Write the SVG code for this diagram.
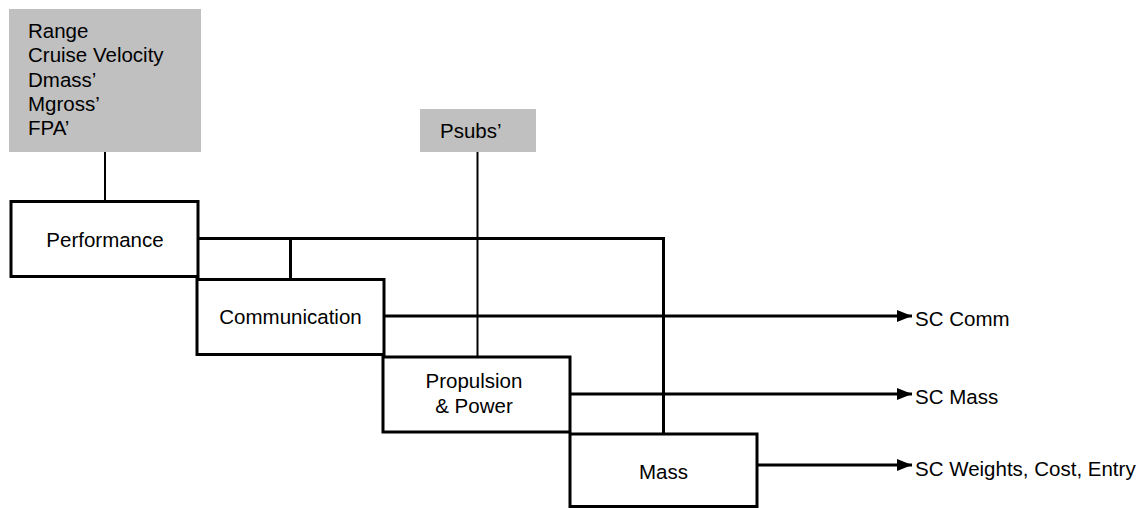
<svg xmlns="http://www.w3.org/2000/svg" width="1143" height="508" viewBox="0 0 1143 508">
  <style>
    .input { fill: #c0c0c0; stroke: none; }
    .box { fill: #ffffff; stroke: #000000; stroke-width: 3; }
    .t { font-family: "Liberation Sans", Arial, sans-serif; font-size: 20.5px; fill: #000000; }
    .c { text-anchor: middle; }
    .wire { fill: none; stroke: #000000; stroke-width: 3; }
    .thin { fill: none; stroke: #000000; stroke-width: 2; }
  </style>
  <defs>
    <marker id="arrow" markerUnits="userSpaceOnUse" markerWidth="16" markerHeight="13" refX="15" refY="6.5" orient="auto">
      <path d="M0,0.5 L15,6.5 L0,12.5 Z" fill="#000000"/>
    </marker>
  </defs>
  <rect width="1143" height="508" fill="#ffffff"/>

  <g id="connectors">
    <line class="thin" x1="105" y1="152" x2="105" y2="201"/>
    <line class="thin" x1="477.5" y1="152" x2="477.5" y2="357"/>
    <path class="wire" d="M198,238.5 H663.5 V434"/>
    <line class="wire" x1="290.5" y1="238.5" x2="290.5" y2="280"/>
    <line class="wire" x1="384" y1="316" x2="912" y2="316" marker-end="url(#arrow)"/>
    <line class="wire" x1="570" y1="394" x2="912" y2="394" marker-end="url(#arrow)"/>
    <line class="wire" x1="757" y1="465" x2="912" y2="465" marker-end="url(#arrow)"/>
  </g>

  <g id="inputs-performance">
    <rect class="input" x="9" y="9" width="192" height="143"/>
    <text class="t" x="28" y="38">Range</text>
    <text class="t" x="28" y="62">Cruise Velocity</text>
    <text class="t" x="28" y="87">Dmass’</text>
    <text class="t" x="28" y="111">Mgross’</text>
    <text class="t" x="28" y="135">FPA’</text>
  </g>

  <g id="inputs-psubs">
    <rect class="input" x="420" y="109" width="116" height="43"/>
    <text class="t" x="440" y="138">Psubs’</text>
  </g>

  <g id="performance">
    <rect class="box" x="11" y="201.5" width="187" height="75"/>
    <text class="t c" x="105" y="247">Performance</text>
  </g>

  <g id="communication">
    <rect class="box" x="197" y="279.5" width="187" height="75"/>
    <text class="t c" x="290.5" y="324">Communication</text>
  </g>

  <g id="propulsion">
    <rect class="box" x="383" y="357" width="187" height="75"/>
    <text class="t c" x="474" y="388">Propulsion</text>
    <text class="t c" x="474" y="413">&amp; Power</text>
  </g>

  <g id="mass">
    <rect class="box" x="570" y="434" width="187" height="72.5"/>
    <text class="t c" x="663.5" y="479">Mass</text>
  </g>

  <g id="outputs">
    <text class="t" x="915" y="326">SC Comm</text>
    <text class="t" x="915" y="404">SC Mass</text>
    <text class="t" x="915" y="476">SC Weights, Cost, Entry</text>
  </g>
</svg>
